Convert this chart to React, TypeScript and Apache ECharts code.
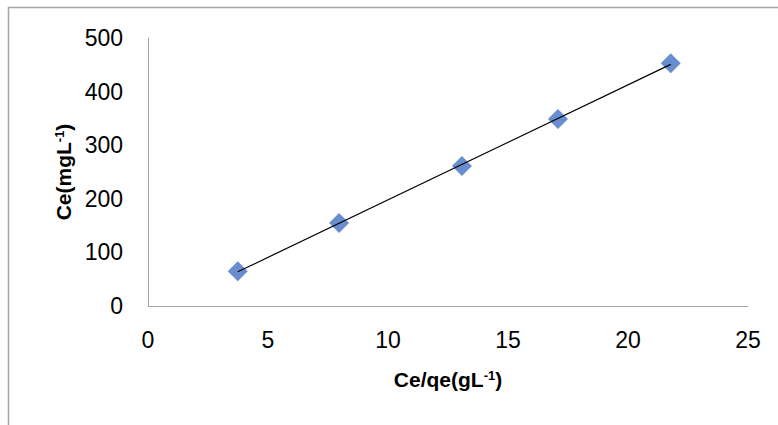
import React, { useEffect, useRef } from "react";
import * as echarts from "echarts";

const xValues = [3.74, 7.96, 13.08, 17.08, 21.78];
const yValues = [65, 155, 261, 349, 453];
const xTicks = [0, 5, 10, 15, 20, 25];
const yTicks = [0, 100, 200, 300, 400, 500];

function regression(xs: number[], ys: number[]) {
  const n = xs.length;
  const mx = xs.reduce((a, b) => a + b, 0) / n;
  const my = ys.reduce((a, b) => a + b, 0) / n;
  let sxy = 0, sxx = 0;
  for (let i = 0; i < n; i++) {
    sxy += (xs[i] - mx) * (ys[i] - my);
    sxx += (xs[i] - mx) ** 2;
  }
  const b = sxy / sxx;
  const a = my - b * mx;
  return { a, b };
}

const font = "Liberation Sans, Arial, sans-serif";
const titleRich = {
  n: { fontFamily: font, fontSize: 21, fontWeight: "bold", color: "#000" },
  s: { fontFamily: font, fontSize: 13, fontWeight: "bold", color: "#000", verticalAlign: "top" },
};

export default function App() {
  const ref = useRef<HTMLDivElement>(null);
  useEffect(() => {
    if (!ref.current) return;
    const chart = echarts.init(ref.current, null, { renderer: "svg" });
    const { a, b } = regression(xValues, yValues);
    const xmin = Math.min(...xValues);
    const xmax = Math.max(...xValues);
    chart.setOption({
      animation: false,
      backgroundColor: "#ffffff",
      graphic: [
        {
          type: "rect",
          shape: { x: 8.5, y: 7.5, width: 900, height: 600 },
          style: { fill: "none", stroke: "#a6a6a6", lineWidth: 1.5 },
          silent: true,
        },
      ],
      grid: { left: 148, top: 38, right: 30, bottom: 119 },
      xAxis: {
        type: "value",
        min: xTicks[0],
        max: xTicks[xTicks.length - 1],
        interval: 5,
        name: "{n|Ce/qe(gL}{s|-1}{n|)}",
        nameLocation: "middle",
        nameGap: 63,
        nameTextStyle: { fontFamily: font, fontSize: 21, fontWeight: "bold", color: "#000", rich: titleRich },
        axisLine: { show: true, lineStyle: { color: "#a6a6a6", width: 1 } },
        axisTick: { show: false },
        splitLine: { show: false },
        axisLabel: { fontFamily: font, fontSize: 23, color: "#000", margin: 22 },
      },
      yAxis: {
        type: "value",
        min: yTicks[0],
        max: yTicks[yTicks.length - 1],
        interval: 100,
        name: "{n|Ce(mgL}{s|-1}{n|)}",
        nameLocation: "middle",
        nameGap: 72,
        nameRotate: 90,
        nameTextStyle: { fontFamily: font, fontSize: 21, fontWeight: "bold", color: "#000", rich: titleRich },
        axisLine: { show: true, lineStyle: { color: "#a6a6a6", width: 1 } },
        axisTick: { show: false },
        splitLine: { show: false },
        axisLabel: { fontFamily: font, fontSize: 23, color: "#000", margin: 25 },
      },
      series: [
        {
          type: "line",
          data: [
            [xmin, a + b * xmin],
            [xmax, a + b * xmax],
          ],
          showSymbol: false,
          symbol: "none",
          lineStyle: { color: "#000", width: 1.2 },
          silent: true,
          z: 3,
        },
        {
          type: "scatter",
          data: xValues.map((x, i) => [x, yValues[i]]),
          symbol: "diamond",
          symbolSize: [20, 20],
          itemStyle: { color: "#4472C4" },
          z: 2,
        },
      ],
    });
    return () => chart.dispose();
  }, []);
  return (
    <div
      ref={ref}
      style={{ position: "absolute", left: 0, top: 0, width: 778, height: 425 }}
    />
  );
}
